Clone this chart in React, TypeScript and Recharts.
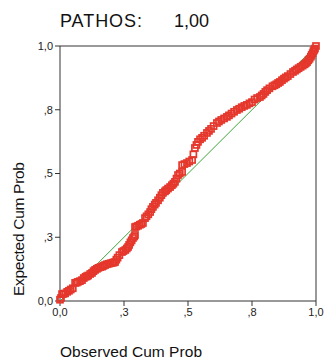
import { ScatterChart, Scatter, XAxis, YAxis, ReferenceLine } from 'recharts'

// P-P plot, points (observed, expected)
const observed = [
  0.0, 0.004, 0.008, 0.014, 0.02, 0.028, 0.035, 0.042, 0.05, 0.059,
  0.065, 0.07, 0.078, 0.086, 0.093, 0.1, 0.105, 0.11, 0.118, 0.125,
  0.131, 0.137, 0.144, 0.15, 0.158, 0.165, 0.17, 0.176, 0.183, 0.19,
  0.198, 0.205, 0.21, 0.215, 0.22, 0.225, 0.232, 0.242, 0.248, 0.255,
  0.261, 0.266, 0.27, 0.275, 0.28, 0.285, 0.29, 0.293, 0.293, 0.298,
  0.305, 0.312, 0.318, 0.324, 0.332, 0.338, 0.345, 0.352, 0.357, 0.363,
  0.37, 0.375, 0.383, 0.39, 0.396, 0.402, 0.41, 0.415, 0.422, 0.43,
  0.437, 0.443, 0.449, 0.455, 0.461, 0.468, 0.477, 0.477, 0.486, 0.496,
  0.505, 0.516, 0.521, 0.527, 0.533, 0.539, 0.547, 0.555, 0.563, 0.574,
  0.582, 0.59, 0.6, 0.613, 0.621, 0.63, 0.641, 0.652, 0.66, 0.67,
  0.68, 0.691, 0.7, 0.71, 0.72, 0.73, 0.74, 0.75, 0.76, 0.77,
  0.781, 0.788, 0.795, 0.802, 0.809, 0.818, 0.83, 0.838, 0.845, 0.852,
  0.859, 0.867, 0.875, 0.882, 0.89, 0.9, 0.91, 0.918, 0.925, 0.932,
  0.94, 0.948, 0.955, 0.96, 0.965, 0.97, 0.975, 0.98, 0.983, 0.987,
  0.99, 0.993, 0.996, 1.0,
]
const expected = [
  0.005, 0.012, 0.027, 0.028, 0.03, 0.036, 0.04, 0.045, 0.05, 0.071,
  0.072, 0.075, 0.078, 0.082, 0.09, 0.095, 0.097, 0.1, 0.106, 0.11,
  0.117, 0.122, 0.126, 0.13, 0.133, 0.135, 0.138, 0.141, 0.144, 0.146,
  0.148, 0.15, 0.151, 0.153, 0.162, 0.17, 0.18, 0.192, 0.196, 0.2,
  0.206, 0.212, 0.22, 0.23, 0.238, 0.247, 0.253, 0.259, 0.29, 0.292,
  0.295, 0.299, 0.302, 0.306, 0.325, 0.332, 0.34, 0.349, 0.36, 0.369,
  0.378, 0.385, 0.395, 0.405, 0.415, 0.424, 0.43, 0.435, 0.441, 0.447,
  0.454, 0.46, 0.467, 0.48, 0.494, 0.5, 0.506, 0.533, 0.537, 0.541,
  0.547, 0.553, 0.575, 0.6, 0.612, 0.624, 0.634, 0.64, 0.648, 0.659,
  0.667, 0.675, 0.686, 0.698, 0.704, 0.71, 0.716, 0.722, 0.728, 0.735,
  0.742, 0.749, 0.754, 0.76, 0.765, 0.769, 0.775, 0.78, 0.79, 0.796,
  0.8, 0.806, 0.812, 0.82, 0.827, 0.834, 0.842, 0.846, 0.85, 0.855,
  0.859, 0.866, 0.872, 0.877, 0.882, 0.89, 0.898, 0.903, 0.908, 0.913,
  0.918, 0.923, 0.928, 0.932, 0.937, 0.944, 0.95, 0.958, 0.965, 0.972,
  0.98, 0.985, 0.99, 1.0,
]
const tickValues = [0, 0.25, 0.5, 0.75, 1]
const tickLabels = ['0,0', ',3', ',5', ',8', '1,0']

const points = observed.map((x, i) => ({ x, y: expected[i] }))

const font = 'Arial, "Liberation Sans", sans-serif'
const fmt = (v: number) => tickLabels[tickValues.indexOf(v)] ?? ''

const Square = (props: any) => {
  const { cx, cy } = props
  if (cx == null || cy == null) return null
  return <rect x={cx - 3} y={cy - 3} width={6} height={6} fill="none" stroke="#e5372c" strokeWidth={1.7} />
}

export default function App() {
  return (
    <div style={{ position: 'absolute', left: 0, top: 0, width: 328, height: 360, background: '#fff' }}>
      <ScatterChart width={328} height={360} margin={{ top: 46, right: 12, bottom: 29, left: 0 }}>
        <XAxis
          type="number"
          dataKey="x"
          domain={[0, 1]}
          ticks={tickValues}
          tickFormatter={fmt}
          height={30}
          stroke="#333"
          tickSize={5}
          tickMargin={2}
          tick={{ fontSize: 11, fill: '#222', fontFamily: font }}
        />
        <YAxis
          type="number"
          dataKey="y"
          domain={[0, 1]}
          ticks={tickValues}
          tickFormatter={fmt}
          width={60}
          stroke="#333"
          tickSize={5}
          tickMargin={2}
          tick={{ fontSize: 11, fill: '#222', fontFamily: font }}
        />
        <ReferenceLine y={1} stroke="#333" />
        <ReferenceLine x={1} stroke="#333" />
        <ReferenceLine segment={[{ x: 0, y: 0 }, { x: 1, y: 1 }]} stroke="#3fa53a" strokeWidth={1} />
        <Scatter data={points} shape={Square} isAnimationActive={false} />
      </ScatterChart>
      <svg width={328} height={360} style={{ position: 'absolute', left: 0, top: 0, pointerEvents: 'none' }}>
        <text x={60} y={27} fontSize={18} textLength={82} fontFamily={font} fill="#111">PATHOS:</text>
        <text x={174} y={27} fontSize={18} fontFamily={font} fill="#111">1,00</text>
        <text x={60} y={357} fontSize={15.5} textLength={142} fontFamily={font} fill="#111">Observed Cum Prob</text>
        <text transform="translate(24,296) rotate(-90)" fontSize={15.5} textLength={134} fontFamily={font} fill="#111">
          Expected Cum Prob
        </text>
      </svg>
    </div>
  )
}
